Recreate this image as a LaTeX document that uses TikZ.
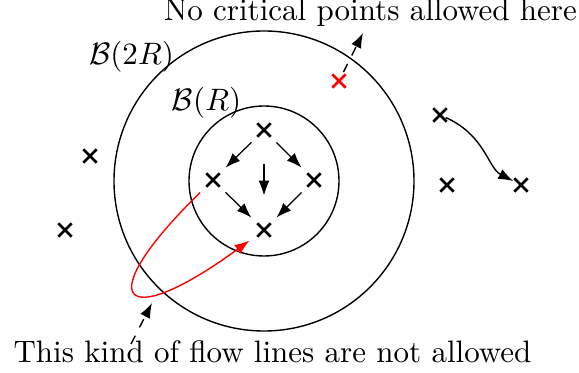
\documentclass[tikz,border=0pt]{standalone}
\usetikzlibrary{arrows.meta}
\begin{document}
\begin{tikzpicture}[x=0.3226pt,y=-0.3226pt,
  crit/.style={circle,inner sep=0pt,minimum size=11pt,
    path picture={\draw[line width=0.85pt,#1]
      ([shift={(-2.15pt,-2.15pt)}]path picture bounding box.center) -- ([shift={(2.15pt,2.15pt)}]path picture bounding box.center)
      ([shift={(-2.15pt,2.15pt)}]path picture bounding box.center) -- ([shift={(2.15pt,-2.15pt)}]path picture bounding box.center);}},
  crit/.default=black,
  arr/.style={-{Latex[length=4.8pt,width=3.5pt]}},
  ring/.style={draw,line width=0.45pt},
  note/.style={anchor=base,inner sep=0pt,font=\fontsize{10}{12}\selectfont}]
\useasboundingbox (0,0) rectangle (579,373);
% circles
\coordinate (C) at (264,181);
\draw[ring] (C) circle[radius=150];
\draw[ring] (C) circle[radius=75];
% labels
\node[note] (B2) at (131.5,65) {$\mathcal{B}(2R)$};
\node[note] (B1) at (206.5,111) {$\mathcal{B}(R)$};
\node[note] (top) at (370.5,21) {No critical points allowed here};
\node[note] (bot) at (272.5,363) {This kind of flow lines are not allowed};
% critical points
\node[crit] (T) at (264,130) {};
\node[crit] (L) at (213,180) {};
\node[crit] (R) at (314,180) {};
\node[crit] (B) at (264,230) {};
\node[crit=red] (X) at (339,81) {};
\node[crit] (P1) at (90,156) {};
\node[crit] (P2) at (65,230) {};
\node[crit] (Q1) at (440,115) {};
\node[crit] (Q2) at (447,185) {};
\node[crit] (Q3) at (521,185) {};
% flow arrows
\draw[arr] (T) -- (L);
\draw[arr] (T) -- (R);
\draw[arr,shorten <=5.2pt,shorten >=5.4pt] (T) -- (B);
\draw[arr] (L) -- (B);
\draw[arr] (R) -- (B);
\draw[arr,line width=0.45pt,shorten <=2pt,shorten >=2.8pt] (Q1.center) .. controls (485,135) and (488,168) .. (Q3.center);
% forbidden flow line
\draw[red,arr,line width=0.45pt,shorten <=5.8pt,shorten >=5.8pt] (L.center) .. controls (90,300) and (120,335) .. (B.center);
% dashed pointers
\coordinate (ta) at (363,33);
\coordinate (ba) at (152,303);
\coordinate (bt) at (131,344);
\draw[arr,dashed,line width=0.45pt,shorten <=-2.5pt] (X) -- (ta);
\draw[arr,dashed,line width=0.45pt] (bt) -- (ba);
\end{tikzpicture}
\end{document}
